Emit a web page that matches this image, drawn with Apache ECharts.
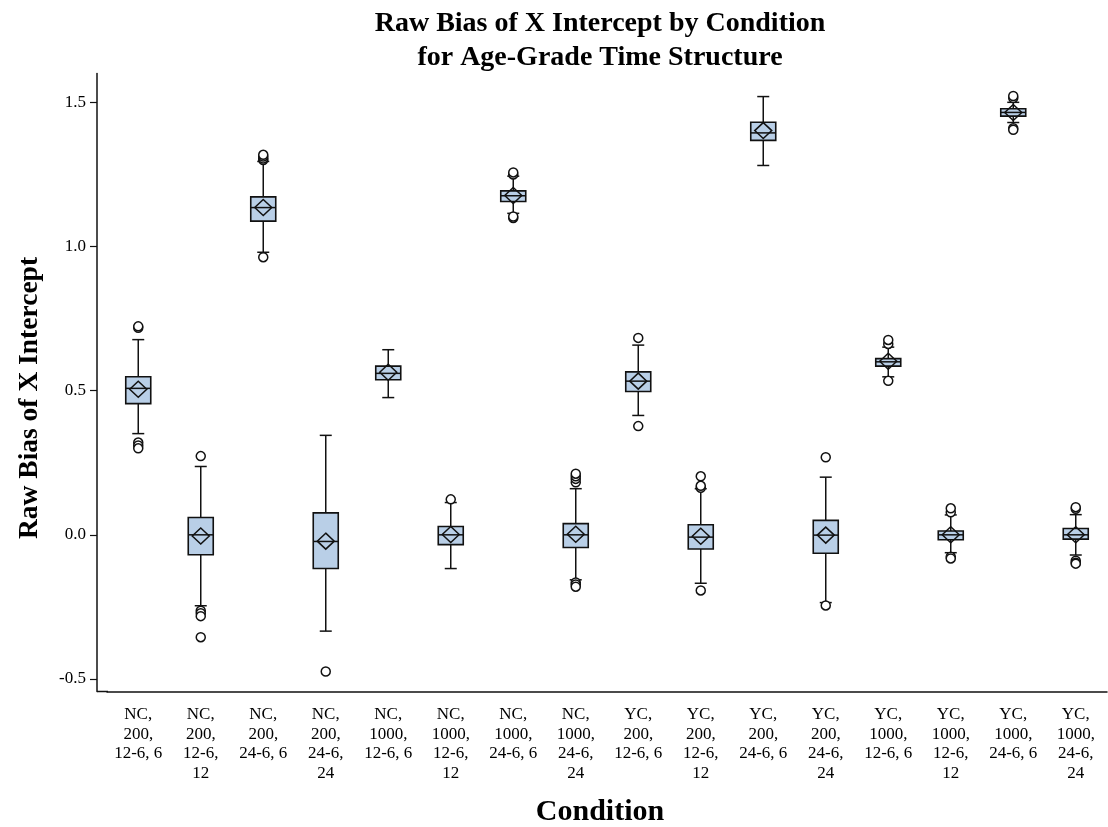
<!DOCTYPE html>
<html>
<head>
<meta charset="utf-8">
<script src="https://cdn.jsdelivr.net/npm/echarts@6/dist/echarts.min.js"></script>
<style>
html,body{margin:0;padding:0;background:#fff;}
#chart{width:1108px;height:827px;}
</style>
</head>
<body>
<div id="chart"></div>
<script>
// ---- data ----
const categories = [
  "NC,\n200,\n12-6, 6", "NC,\n200,\n12-6,\n12", "NC,\n200,\n24-6, 6", "NC,\n200,\n24-6,\n24",
  "NC,\n1000,\n12-6, 6", "NC,\n1000,\n12-6,\n12", "NC,\n1000,\n24-6, 6", "NC,\n1000,\n24-6,\n24",
  "YC,\n200,\n12-6, 6", "YC,\n200,\n12-6,\n12", "YC,\n200,\n24-6, 6", "YC,\n200,\n24-6,\n24",
  "YC,\n1000,\n12-6, 6", "YC,\n1000,\n12-6,\n12", "YC,\n1000,\n24-6, 6", "YC,\n1000,\n24-6,\n24"
];
const whiskerLow  = [0.351, -0.246, 0.980, -0.334, 0.476, -0.117, 1.115, -0.156, 0.414, -0.168, 1.281, -0.235, 0.548, -0.062, 1.430, -0.070];
const q1          = [0.455, -0.069, 1.088, -0.117, 0.538, -0.034, 1.156, -0.044, 0.497, -0.049, 1.368, -0.064, 0.585, -0.017, 1.452, -0.015];
const median      = [0.508,  0.000, 1.135, -0.023, 0.560,  0.000, 1.176,  0.000, 0.533, -0.008, 1.394, -0.001, 0.600,  0.000, 1.465,  0.000];
const q3          = [0.548,  0.060, 1.172,  0.076, 0.585,  0.029, 1.193,  0.039, 0.565,  0.035, 1.431,  0.050, 0.611,  0.013, 1.478,  0.022];
const whiskerHigh = [0.677,  0.237, 1.295,  0.345, 0.642,  0.112, 1.244,  0.160, 0.658,  0.160, 1.520,  0.200, 0.651,  0.069, 1.500,  0.070];
const means       = [0.505, -0.004, 1.135, -0.022, 0.564,  0.001, 1.177,  0.002, 0.533, -0.005, 1.402, -0.001, 0.602,  0.000, 1.465,  0.000];
const outliers = [
  [0.718, 0.723, 0.320, 0.310, 0.300],
  [0.273, -0.263, -0.272, -0.282, -0.355],
  [1.300, 1.305, 1.312, 1.318, 0.963],
  [-0.474],
  [],
  [0.123],
  [1.250, 1.257, 1.099, 1.104],
  [0.182, 0.194, 0.203, 0.212, -0.165, -0.172, -0.180],
  [0.683, 0.377],
  [0.163, 0.170, 0.203, -0.193],
  [],
  [0.269, -0.245],
  [0.662, 0.676, 0.534],
  [0.078, 0.092, -0.076, -0.082],
  [1.515, 1.522, 1.410, 1.405],
  [0.090, 0.096, -0.090, -0.097, -0.100]
];
const yTicks = [-0.5, 0.0, 0.5, 1.0, 1.5];
const titleLines = ["Raw Bias of X Intercept by Condition", "for Age-Grade Time Structure"];
const yName = "Raw Bias of X Intercept";
const xName = "Condition";

// ---- build ----
const boxData = categories.map((c, i) => [i, whiskerLow[i], q1[i], median[i], q3[i], whiskerHigh[i], means[i]]);
const outlierData = [];
outliers.forEach((arr, i) => arr.forEach(v => outlierData.push([i, v])));

const FONT = "'Liberation Serif','Times New Roman',serif";
const INK = '#111';
const FILL = '#b9cfe7';

const chart = echarts.init(document.getElementById('chart'), null, {renderer: 'canvas'});
chart.setOption({
  backgroundColor: '#fff',
  animation: false,
  grid: {left: 107, right: 1, top: 73.5, bottom: 135.5, containLabel: false},
  xAxis: {
    type: 'category',
    data: categories,
    boundaryGap: true,
    axisLine: {onZero: false, lineStyle: {color: INK, width: 1.5}},
    axisTick: {alignWithLabel: true, length: 6, lineStyle: {color: INK, width: 1.2}},
    axisLabel: {
      interval: 0, color: '#000', fontFamily: FONT, fontSize: 17, lineHeight: 19.7,
      margin: 13, align: 'center', verticalAlign: 'top'
    },
    splitLine: {show: false}
  },
  yAxis: {
    type: 'value',
    min: -0.5434, max: 1.6,
    offset: 10,
    axisLine: {show: true, onZero: false, lineStyle: {color: INK, width: 1.5}},
    axisTick: {show: true, length: 7, customValues: yTicks, lineStyle: {color: INK, width: 1.2}},
    axisLabel: {
      customValues: yTicks, color: '#000', fontFamily: FONT, fontSize: 17, margin: 11,
      formatter: v => v.toFixed(1)
    },
    splitLine: {show: false}
  },
  graphic: [
    {type: 'line', shape: {x1: 97, y1: 691.5, x2: 108, y2: 691.5}, style: {stroke: INK, lineWidth: 1.5}, silent: true},
    {type: 'text', x: 600, y: 24, style: {text: titleLines[0], font: "bold 28px " + FONT, fill: '#000', align: 'center', verticalAlign: 'middle'}},
    {type: 'text', x: 600, y: 58, style: {text: titleLines[1], font: "bold 28px " + FONT, fill: '#000', align: 'center', verticalAlign: 'middle'}},
    {type: 'text', x: 30, y: 398, rotation: Math.PI / 2, style: {text: yName, font: "bold 27.5px " + FONT, fill: '#000', align: 'center', verticalAlign: 'middle'}},
    {type: 'text', x: 600, y: 812, style: {text: xName, font: "bold 30px " + FONT, fill: '#000', align: 'center', verticalAlign: 'middle'}}
  ],
  series: [
    {
      type: 'custom',
      data: boxData,
      encode: {x: 0, y: [1, 2, 3, 4, 5, 6]},
      renderItem: function (params, api) {
        const x = api.value(0);
        const pLow = api.coord([x, api.value(1)]);
        const pQ1 = api.coord([x, api.value(2)]);
        const pMed = api.coord([x, api.value(3)]);
        const pQ3 = api.coord([x, api.value(4)]);
        const pHigh = api.coord([x, api.value(5)]);
        const pMean = api.coord([x, api.value(6)]);
        const cx = pMed[0];
        const hw = 12.5, cap = 6, dw = 8.5, dh = 8;
        const ls = {stroke: INK, lineWidth: 1.5, fill: null};
        return {
          type: 'group',
          children: [
            {type: 'line', shape: {x1: cx, y1: pQ3[1], x2: cx, y2: pHigh[1]}, style: ls},
            {type: 'line', shape: {x1: cx, y1: pQ1[1], x2: cx, y2: pLow[1]}, style: ls},
            {type: 'line', shape: {x1: cx - cap, y1: pHigh[1], x2: cx + cap, y2: pHigh[1]}, style: ls},
            {type: 'line', shape: {x1: cx - cap, y1: pLow[1], x2: cx + cap, y2: pLow[1]}, style: ls},
            {type: 'rect', shape: {x: cx - hw, y: pQ3[1], width: 2 * hw, height: pQ1[1] - pQ3[1]},
              style: {fill: FILL, stroke: INK, lineWidth: 1.6}},
            {type: 'line', shape: {x1: cx - hw, y1: pMed[1], x2: cx + hw, y2: pMed[1]}, style: ls},
            {type: 'polygon', shape: {points: [[cx, pMean[1] - dh], [cx + dw, pMean[1]], [cx, pMean[1] + dh], [cx - dw, pMean[1]]]},
              style: {fill: null, stroke: INK, lineWidth: 1.5}}
          ]
        };
      },
      z: 2
    },
    {
      type: 'scatter',
      data: outlierData,
      symbol: 'circle',
      symbolSize: 9,
      itemStyle: {color: '#fff', borderColor: INK, borderWidth: 1.5, opacity: 1},
      z: 3
    }
  ]
});
</script>
</body>
</html>
